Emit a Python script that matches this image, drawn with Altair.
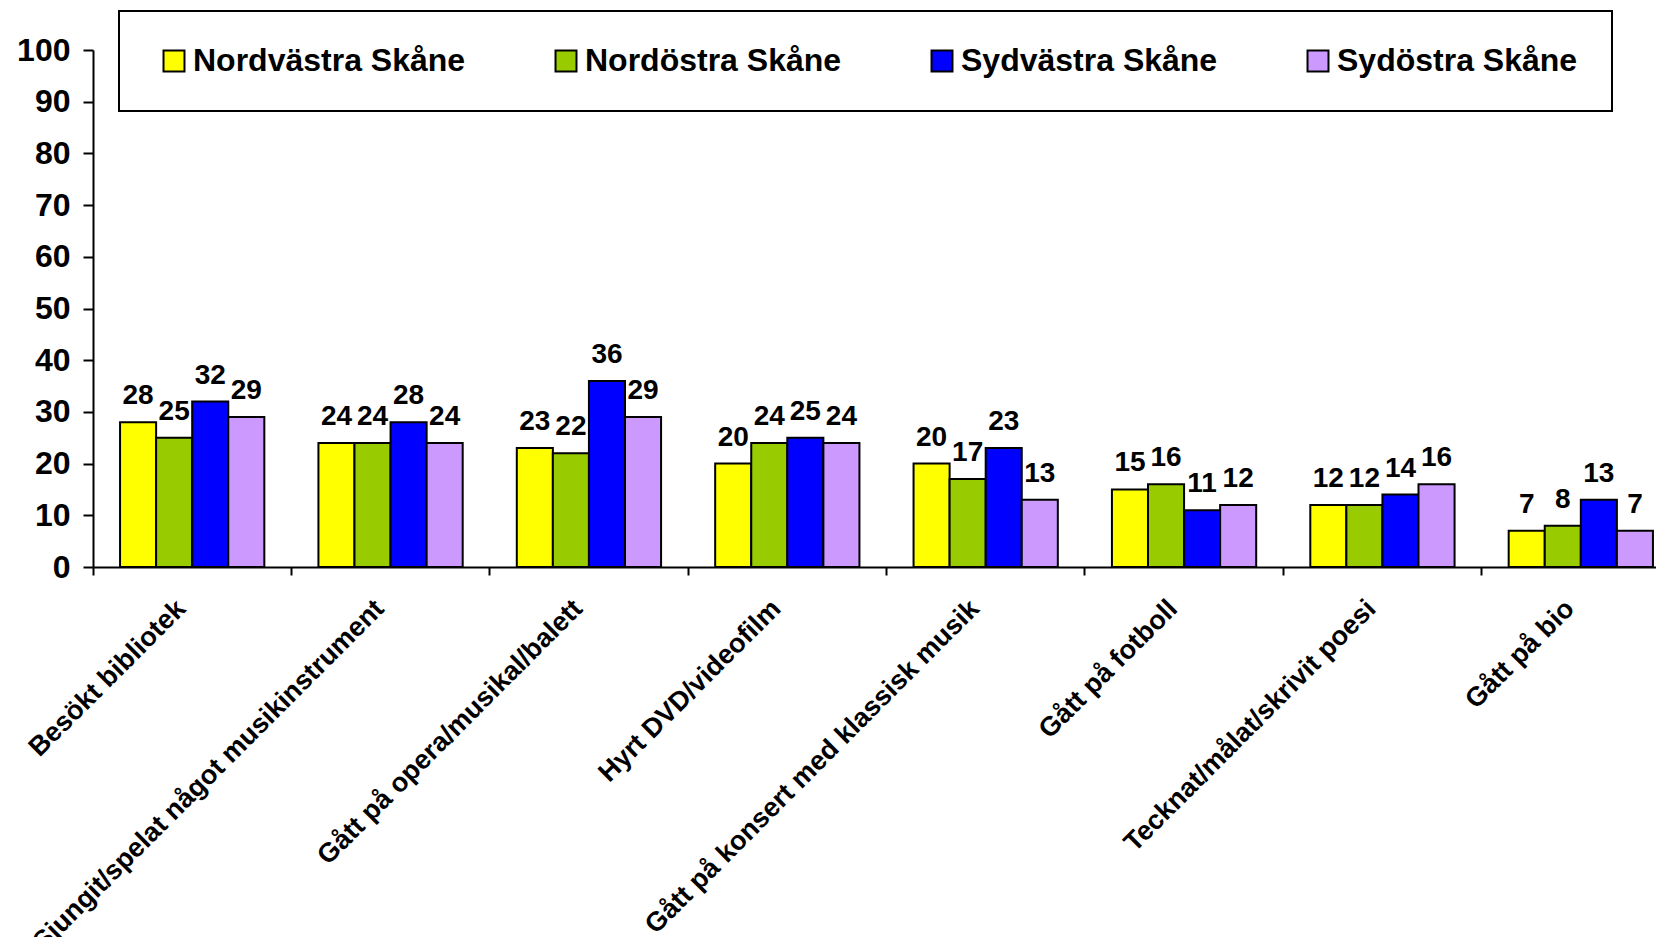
import altair as alt
import pandas as pd

categories = [
    "Besökt bibliotek",
    "Sjungit/spelat något musikinstrument",
    "Gått på opera/musikal/balett",
    "Hyrt DVD/videofilm",
    "Gått på konsert med klassisk musik",
    "Gått på fotboll",
    "Tecknat/målat/skrivit poesi",
    "Gått på bio",
]
regions = ["Nordvästra Skåne", "Nordöstra Skåne", "Sydvästra Skåne", "Sydöstra Skåne"]
nordvastra = [28, 24, 23, 20, 20, 15, 12, 7]
nordostra = [25, 24, 22, 24, 17, 16, 12, 8]
sydvastra = [32, 28, 36, 25, 23, 11, 14, 13]
sydostra = [29, 24, 29, 24, 13, 12, 16, 7]
colors = ["#FFFF00", "#99CC00", "#0000FF", "#CC99FF"]
y_ticks = list(range(0, 101, 10))

series = [nordvastra, nordostra, sydvastra, sydostra]
rows = []
for r, vals in zip(regions, series):
    for c, v in zip(categories, vals):
        rows.append({"category": c, "region": r, "value": v})
df = pd.DataFrame(rows)

FONT = "Liberation Sans"

base = alt.Chart(df).encode(
    x=alt.X(
        "category:N",
        sort=categories,
        scale=alt.Scale(range=[0, 1587], paddingInner=0, paddingOuter=0),
        axis=alt.Axis(
            title=None,
            bandPosition=0,
            labelAngle=-45,
            labelOffset=-20,
            labelPadding=20,
            tickSize=8,
            labelLimit=800,
            labelOverlap=False,
            labelBound=False,
            labelFontSize=27,
        ),
    ),
    xOffset=alt.XOffset(
        "region:N", sort=regions, scale=alt.Scale(paddingOuter=0.75, paddingInner=0)
    ),
    y=alt.Y(
        "value:Q",
        scale=alt.Scale(domain=[0, 100]),
        axis=alt.Axis(
            title=None,
            values=y_ticks,
            tickSize=10,
            labelPadding=13,
            grid=False,
            labelFontSize=32,
        ),
    ),
)

bars = base.mark_bar(stroke="black", strokeWidth=2).encode(
    color=alt.Color(
        "region:N",
        sort=regions,
        scale=alt.Scale(domain=regions, range=colors),
        legend=alt.Legend(
            title=" ",
            titleOrient="left",
            titleFontSize=10,
            titlePadding=5,
            orient="none",
            legendX=26,
            legendY=-39,
            direction="horizontal",
            columns=4,
            labelFont=FONT,
            labelFontWeight="bold",
            labelFontSize=32,
            labelColor="black",
            labelLimit=500,
            labelOffset=3,
            columnPadding=84,
            symbolType="square",
            symbolSize=440,
            symbolStrokeColor="black",
            symbolStrokeWidth=2,
            symbolOpacity=1,
            padding=34,
            strokeColor="black",
            fillColor="white",
        ),
    )
)

labels = base.mark_text(
    dy=-12, baseline="bottom", font=FONT, fontWeight="bold", fontSize=28, color="black"
).encode(text="value:Q")

chart = (
    (bars + labels)
    .properties(
        width=1563,
        height=517,
        autosize=alt.AutoSizeParams(type="none"),
        padding={"left": 85, "top": 42, "right": 0, "bottom": 370},
    )
    .configure_view(stroke=None)
    .configure_legend(strokeWidth=2)
    .configure_axis(
        labelFont=FONT,
        labelFontWeight="bold",
        labelColor="black",
        domainColor="black",
        domainWidth=2,
        tickColor="black",
        tickWidth=2,
    )
)

chart.save("out.html", embed_options={"renderer": "svg", "actions": False})
